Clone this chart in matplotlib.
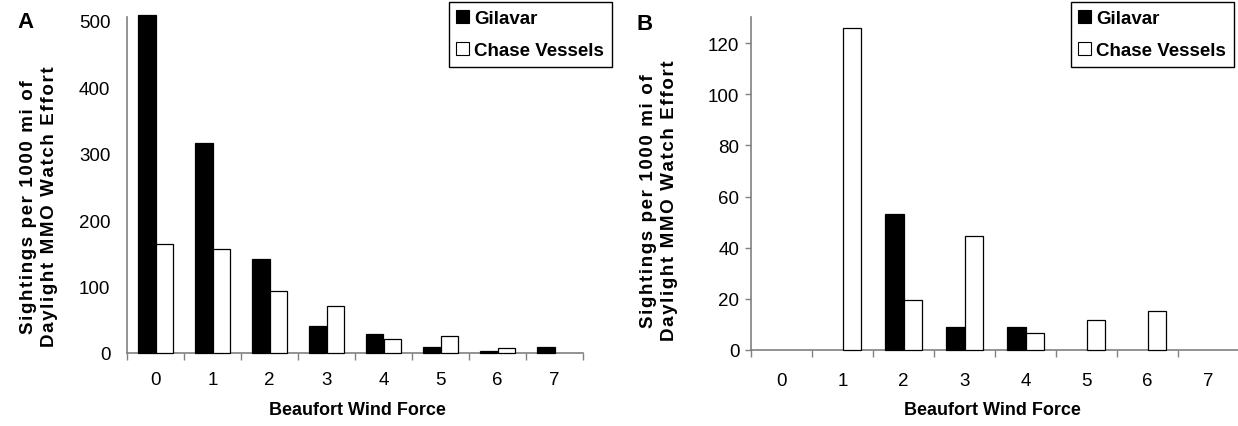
import matplotlib
matplotlib.use("Agg")
import matplotlib.pyplot as plt
import numpy as np
from matplotlib.patches import Patch

plt.rcParams['font.family'] = ['Liberation Sans', 'DejaVu Sans']

# Beaufort wind force categories
beaufort = [0, 1, 2, 3, 4, 5, 6, 7]

# Panel A: sightings per 1000 mi of daylight MMO watch effort
a_gilavar = [509, 316, 142, 41, 29, 9, 3, 9]
a_chase = [164, 157, 94, 71, 21, 25, 7.5, 0]

# Panel B: sightings per 1000 mi of daylight MMO watch effort
b_gilavar = [0, 0, 53, 8.9, 8.9, 0, 0, 0]
b_chase = [0, 126, 19.7, 44.6, 6.6, 11.7, 15.1, 0]

a_yticks = [0, 100, 200, 300, 400, 500]
b_yticks = [0, 20, 40, 60, 80, 100, 120]

W, H = 1238, 427
fig = plt.figure(figsize=(W / 100, H / 100), dpi=100)

AXIS_GREY = '#808080'
BAR_W = 0.3


def px_rect(x0, x1, y_top, y_bottom):
    return [x0 / W, 1 - y_bottom / H, (x1 - x0) / W, (y_bottom - y_top) / H]


def spaced(s):
    return '\u200a'.join(s)


def draw_panel(ax, gil, chase, yticks, ymax, ytick_len, ylabel_pad, xlabel_pad):
    x = np.arange(len(beaufort))
    b1 = ax.bar(x - BAR_W / 2, gil, width=BAR_W, color='black',
                edgecolor='black', linewidth=0.9, clip_on=False, zorder=3)
    b2 = ax.bar(x + BAR_W / 2, chase, width=BAR_W, color='white',
                edgecolor='black', linewidth=0.9, clip_on=False, zorder=3)
    for p in list(b1) + list(b2):
        if p.get_height() == 0:
            p.set_linewidth(0)
    ax.set_xlim(-0.5, len(beaufort) - 0.5)
    ax.set_ylim(0, ymax)
    ax.set_xticks(x)
    ax.set_xticklabels([str(b) for b in beaufort])
    ax.set_xticks(np.arange(-0.5, len(beaufort)), minor=True)
    ax.set_yticks(yticks)
    ax.tick_params(axis='x', which='major', length=0, pad=xlabel_pad,
                   labelsize=13.5)
    ax.tick_params(axis='x', which='minor', direction='out', length=5,
                   width=1, color=AXIS_GREY)
    ax.tick_params(axis='y', direction='out', length=ytick_len, width=1,
                   color=AXIS_GREY, pad=ylabel_pad, labelsize=13.5)
    for s in ('top', 'right'):
        ax.spines[s].set_visible(False)
    for s in ('left', 'bottom'):
        ax.spines[s].set_color(AXIS_GREY)
        ax.spines[s].set_linewidth(1.2)
    ax.set_facecolor('none')


# Panel A
axA = fig.add_axes(px_rect(127, 583, 18, 354))
draw_panel(axA, a_gilavar, a_chase, a_yticks, 506, 0, 12, 13)

# Panel B
axB = fig.add_axes(px_rect(751, 1239, 18, 351))
draw_panel(axB, b_gilavar, b_chase, b_yticks, 130.2, 4.3, 4, 16)

ylabel = spaced('Sightings per 1000 mi of') + '\n' + spaced('Daylight MMO Watch Effort')
for (cx, cy) in [(39, 207), (659, 201)]:
    fig.text(cx / W, 1 - cy / H, ylabel, rotation=90, ha='center', va='center',
             multialignment='center', fontsize=13.5, fontweight='bold',
             linespacing=1.3)

for (cx, cy) in [(357, 411), (992, 411)]:
    fig.text(cx / W, 1 - cy / H, 'Beaufort Wind Force', ha='center',
             va='center', fontsize=13, fontweight='bold')

fig.text(25 / W, 1 - 23 / H, 'A', ha='center', va='center', fontsize=16,
         fontweight='bold')
fig.text(645 / W, 1 - 25 / H, 'B', ha='center', va='center', fontsize=16,
         fontweight='bold')

handles = [Patch(facecolor='black', edgecolor='black', linewidth=0.8, label='Gilavar'),
           Patch(facecolor='white', edgecolor='black', linewidth=0.8, label='Chase Vessels')]
for (rx, ty) in [(612, 3), (1234, 3)]:
    leg = fig.legend(handles=handles, loc='upper right',
                     bbox_to_anchor=(rx / W, 1 - ty / H), borderaxespad=0,
                     prop={'weight': 'bold', 'size': 13.5},
                     handlelength=0.65, handleheight=0.65, handletextpad=0.3,
                     labelspacing=0.8, borderpad=0.42, fancybox=False,
                     framealpha=1, edgecolor='black')
    leg.get_frame().set_linewidth(1.0)

fig.savefig('out.png', dpi=100)
